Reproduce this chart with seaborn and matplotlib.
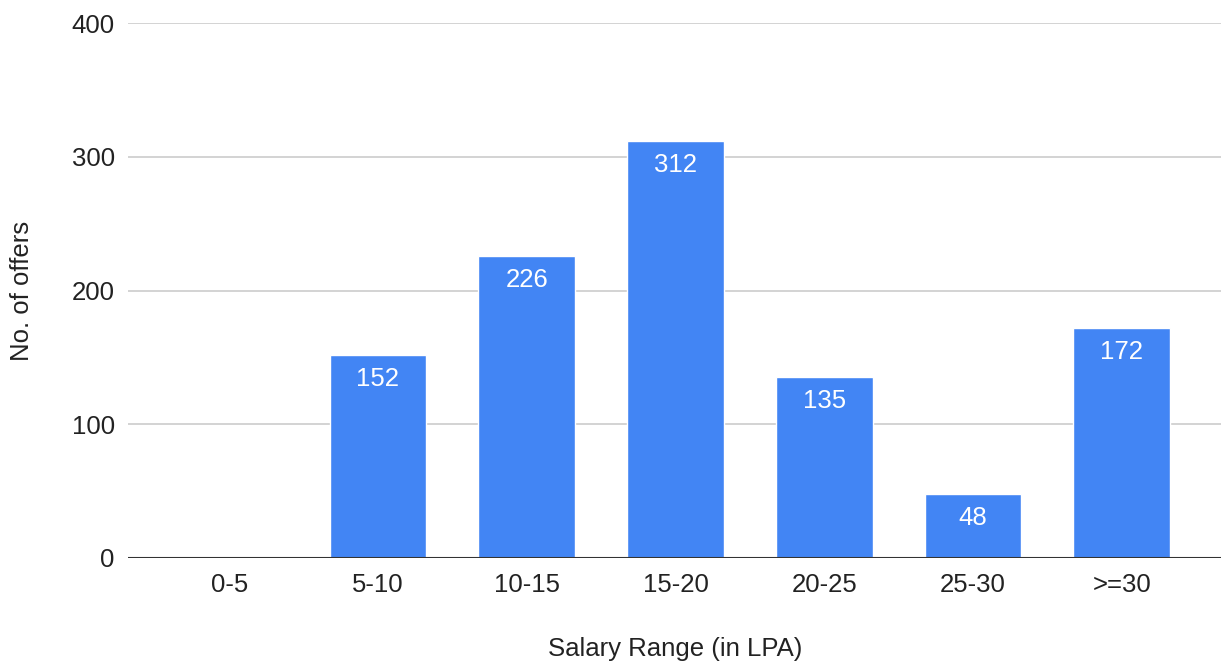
import matplotlib
matplotlib.use('Agg')
import matplotlib.pyplot as plt
import seaborn as sns
import pandas as pd

salary_ranges = ['0-5', '5-10', '10-15', '15-20', '20-25', '25-30', '>=30']
offers = [0, 152, 226, 312, 135, 48, 172]

df = pd.DataFrame({'range': salary_ranges, 'offers': offers})

sns.set_style('white')
plt.rcParams['font.family'] = ['Liberation Sans', 'DejaVu Sans']

fig = plt.figure(figsize=(12.23, 6.61), dpi=100)
ax = fig.add_axes([0.1047, 0.156, 0.894, 0.809])

sns.barplot(data=df, x='range', y='offers', color='#4285f4', saturation=1,
            width=0.65, ax=ax, zorder=3)

ax.set_ylim(0, 400)
ax.set_xlim(-0.68, 6.67)
ax.set_yticks([0, 100, 200, 300, 400])
ax.yaxis.grid(True, color='#cccccc', linewidth=1.2, zorder=0)
ax.axhline(0, color='#333333', linewidth=1.5, zorder=4)
for s in ax.spines.values():
    s.set_visible(False)
ax.tick_params(axis='both', length=0, labelsize=18.5, colors='#222222')
ax.tick_params(axis='x', pad=11)
ax.tick_params(axis='y', pad=9.5)

for i, v in enumerate(offers):
    if v > 0:
        ax.text(i, v - 18, str(v), ha='center', va='center', color='white',
                fontsize=18.5, zorder=5)

ax.set_xlabel('Salary Range (in LPA)', fontsize=18.5, color='#222222', labelpad=29)
ax.set_ylabel('No. of offers', fontsize=18.5, color='#222222', labelpad=27)

fig.savefig('out.png', dpi=100)
